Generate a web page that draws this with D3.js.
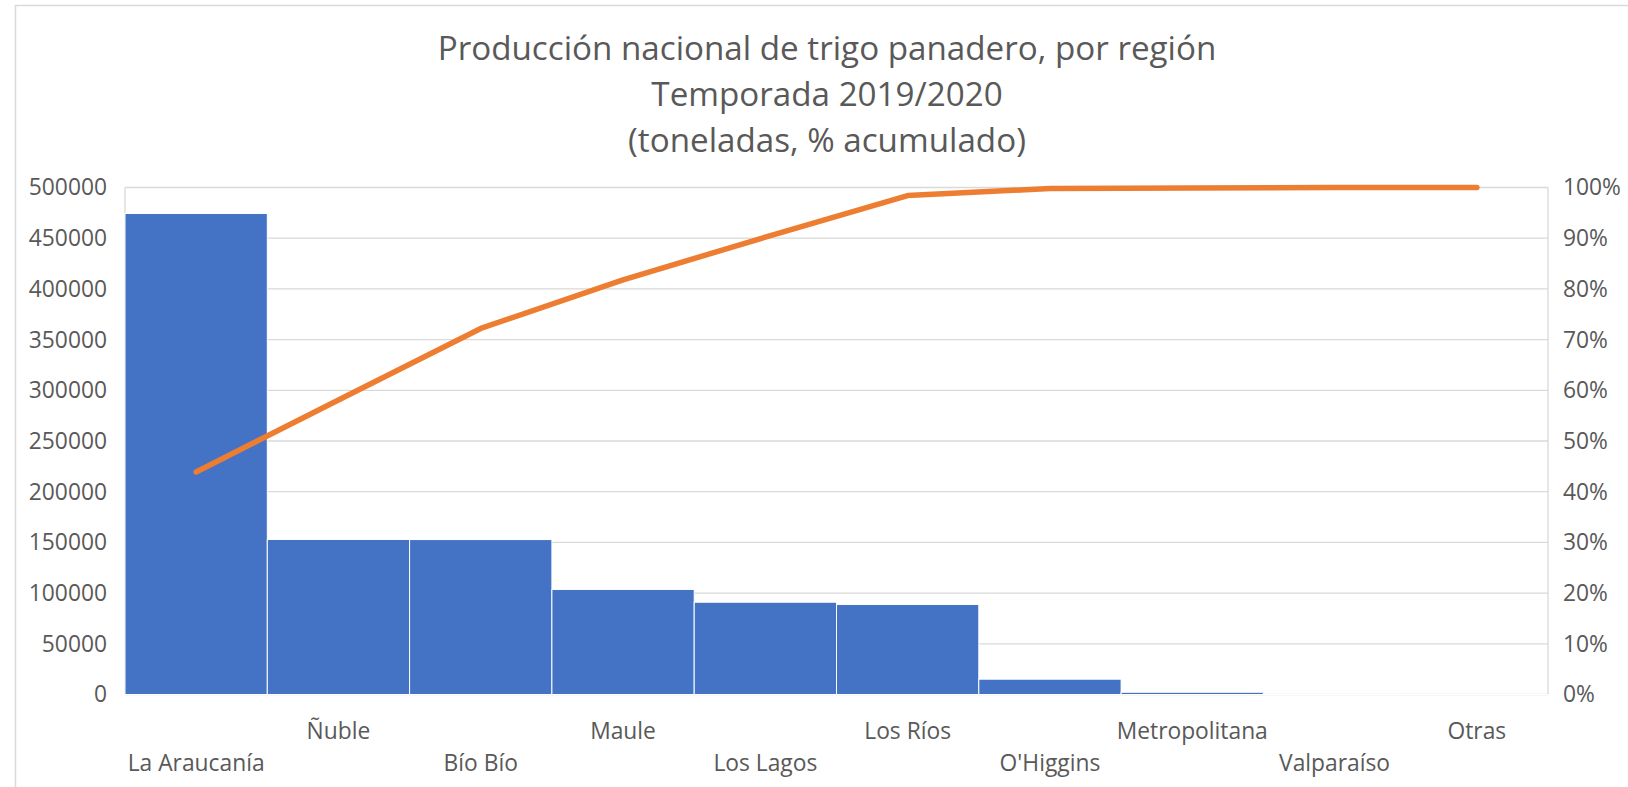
<!DOCTYPE html>
<html>
<head>
<meta charset="utf-8">
<script src="https://cdn.jsdelivr.net/npm/d3@7"></script>
<style>
  html, body { margin: 0; padding: 0; background: #fff; }
  svg { display: block; }
  text { font-family: "Open Sans", "Noto Sans", sans-serif; fill: #595959; }
</style>
</head>
<body>
<div id="chart"></div>
<script>
// ---- data ----
const titleLines = ["Producción nacional de trigo panadero, por región", "Temporada 2019/2020", "(toneladas, % acumulado)"];
const categories = ["La Araucanía", "Ñuble", "Bío Bío", "Maule", "Los Lagos", "Los Ríos", "O'Higgins", "Metropolitana", "Valparaíso", "Otras"];
const production = [474400, 152900, 152800, 103600, 91000, 88800, 15100, 2200, 300, 100];
const cumulativePct = [0.439, 0.581, 0.722, 0.818, 0.902, 0.984, 0.998, 0.999, 1.0, 1.0];
const leftTicks = [0, 50000, 100000, 150000, 200000, 250000, 300000, 350000, 400000, 450000, 500000];
const rightTicks = [0, 0.1, 0.2, 0.3, 0.4, 0.5, 0.6, 0.7, 0.8, 0.9, 1.0];

// ---- layout ----
const W = 1628, H = 787;
const plot = { left: 125, right: 1548, top: 187.5, bottom: 694.5 };

const svg = d3.select("#chart").append("svg").attr("width", W).attr("height", H);

// outer chart border
svg.append("rect").attr("x", 15.5).attr("y", 5.5).attr("width", W + 10).attr("height", H + 10)
  .attr("fill", "none").attr("stroke", "#D9D9D9").attr("stroke-width", 1.5);

const x = d3.scaleBand().domain(categories).range([plot.left, plot.right]).padding(0);
const y = d3.scaleLinear().domain([0, 500000]).range([plot.bottom, plot.top]);
const y2 = d3.scaleLinear().domain([0, 1]).range([plot.bottom, plot.top]);

// gridlines
svg.append("g").selectAll("line").data(leftTicks).join("line")
  .attr("x1", plot.left).attr("x2", plot.right)
  .attr("y1", d => y(d)).attr("y2", d => y(d))
  .attr("stroke", "#D9D9D9").attr("stroke-width", 1.3);

// plot area vertical edges
svg.append("line").attr("x1", plot.left).attr("x2", plot.left).attr("y1", plot.top).attr("y2", plot.bottom)
  .attr("stroke", "#D9D9D9").attr("stroke-width", 1.3);
svg.append("line").attr("x1", plot.right).attr("x2", plot.right).attr("y1", plot.top).attr("y2", plot.bottom)
  .attr("stroke", "#D9D9D9").attr("stroke-width", 1.3);

// bars
svg.append("g").selectAll("rect").data(categories).join("rect")
  .attr("x", d => x(d))
  .attr("width", x.bandwidth())
  .attr("y", (d, i) => y(production[i]))
  .attr("height", (d, i) => y(0) - y(production[i]))
  .attr("fill", "#4472C4")
  .attr("stroke", "#FFFFFF").attr("stroke-width", 1);

// cumulative line
const line = d3.line()
  .x((d, i) => x(categories[i]) + x.bandwidth() / 2)
  .y(d => y2(d));
svg.append("path").datum(cumulativePct)
  .attr("d", line)
  .attr("fill", "none").attr("stroke", "#ED7D31").attr("stroke-width", 5.5)
  .attr("stroke-linecap", "round").attr("stroke-linejoin", "round");

// left axis labels
const fmtLeft = d3.format("d");
svg.append("g").selectAll("text").data(leftTicks).join("text")
  .attr("x", 107).attr("y", d => y(d)).attr("dy", "0.35em")
  .attr("text-anchor", "end").attr("font-size", 22.8)
  .text(d => fmtLeft(d));

// right axis labels
const fmtRight = d3.format(".0%");
svg.append("g").selectAll("text").data(rightTicks).join("text")
  .attr("x", 1563).attr("y", d => y2(d)).attr("dy", "0.35em")
  .attr("text-anchor", "start").attr("font-size", 22.8)
  .text(d => fmtRight(d));

// category labels (staggered)
svg.append("g").selectAll("text").data(categories).join("text")
  .attr("x", d => x(d) + x.bandwidth() / 2)
  .attr("y", (d, i) => i % 2 === 0 ? 763 : 731).attr("dy", "0.35em")
  .attr("text-anchor", "middle").attr("font-size", 22.8)
  .text(d => d);

// title
svg.append("g").selectAll("text").data(titleLines).join("text")
  .attr("x", 827).attr("y", (d, i) => 48 + i * 46).attr("dy", "0.35em")
  .attr("text-anchor", "middle").attr("font-size", 33.2)
  .text(d => d);
</script>
</body>
</html>
